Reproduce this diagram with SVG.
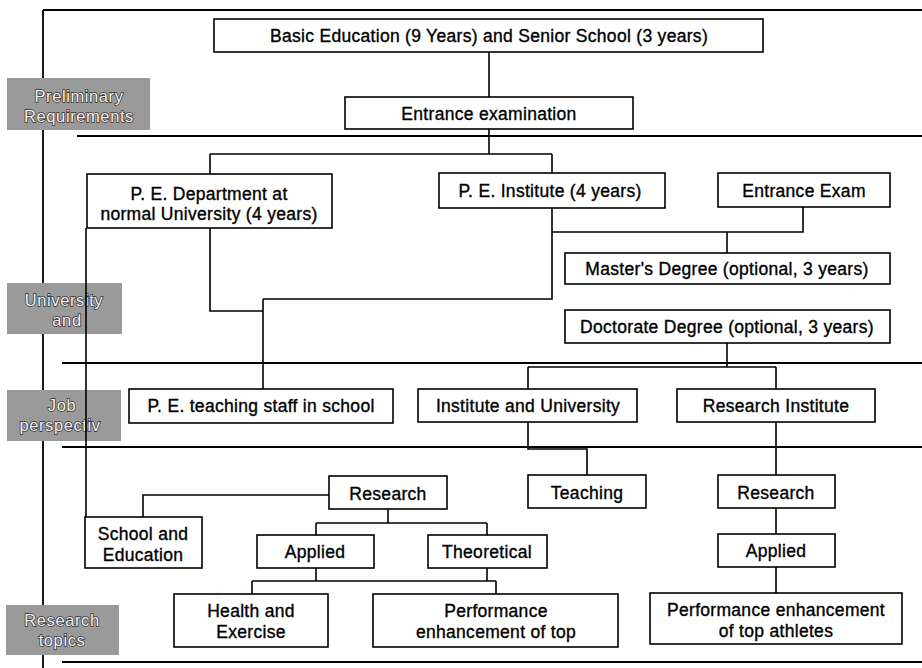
<svg xmlns="http://www.w3.org/2000/svg" width="922" height="668" viewBox="0 0 922 668">
<style>
.bg{fill:#ffffff}
.box{fill:#ffffff;stroke:#000;stroke-width:1.6}
.t{font-family:"Liberation Sans",Arial,sans-serif;font-size:17.5px;letter-spacing:0.3px;fill:#000;stroke:#000;stroke-width:0.35;text-anchor:middle}
.lab{fill:#9a9a9a}
.lt{font-family:"Liberation Sans",Arial,sans-serif;font-size:16.5px;letter-spacing:0.6px;fill:#f2f2f2;stroke:#333;stroke-width:1.5;paint-order:stroke;text-anchor:middle}
.ln{fill:none;stroke:#000;stroke-width:1.6}
.sep{fill:none;stroke:#000;stroke-width:1.8}
</style>
<rect class="bg" x="0" y="0" width="922" height="668"/>
<g id="frame">
<path class="sep" d="M43,10 H922 M43,10 V668 M77,136 H922 M62,363 H922 M62,447 H922 M62,662 H922"/>
</g>
<g id="labels">
<g id="label-preliminary"><rect class="lab" x="7" y="78" width="143" height="52"/><text class="lt" x="79" y="102">Preliminary</text><text class="lt" x="79" y="122">Requirements</text></g>
<g id="label-university"><rect class="lab" x="7" y="283" width="115" height="51"/><text class="lt" x="64" y="306">University</text><text class="lt" x="67" y="326">and</text></g>
<g id="label-job"><rect class="lab" x="7" y="390" width="114" height="51"/><text class="lt" x="62" y="411">Job</text><text class="lt" x="60" y="431">perspectiv</text></g>
<g id="label-topics"><rect class="lab" x="6" y="605" width="113" height="50"/><text class="lt" x="62" y="626">Research</text><text class="lt" x="62" y="646">topics</text></g>
</g>
<g id="connectors">
<path class="ln" d="M489,52 V97"/>
<path class="ln" d="M489,129 V154 M210,154 H552 M210,154 V174 M552,154 V173"/>
<path class="ln" d="M552,208 V299 H263 M552,232 H803 V207 M727,232 V253"/>
<path class="ln" d="M210,228 V311 H263 M263,299 V389"/>
<path class="ln" d="M727,343 V367 M528,367 H776 M528,367 V389 M776,367 V389"/>
<path class="ln" d="M528,422 V449 H587 V475"/>
<path class="ln" d="M776,422 V475 M776,508 V534 M776,567 V593"/>
<path class="ln" d="M329,495 H143 V517"/>
<path class="ln" d="M388,509 V523 M316,523 H487 M316,523 V535 M487,523 V535"/>
<path class="ln" d="M316,568 V581 M487,568 V581 M252,581 H496 M252,581 V594 M496,581 V594"/>
</g>
<g id="basic"><rect class="box" x="214" y="19" width="549" height="33"/><text class="t" x="489" y="42">Basic Education (9 Years) and Senior School (3 years)</text></g>
<g id="entrance"><rect class="box" x="345" y="97" width="288" height="32"/><text class="t" x="489" y="120">Entrance examination</text></g>
<g id="pe-dept"><rect class="box" x="87" y="174" width="245" height="54"/><text class="t" x="209" y="200">P. E. Department at</text><text class="t" x="209" y="220">normal University (4 years)</text></g>
<g id="pe-inst"><rect class="box" x="439" y="173" width="226" height="35"/><text class="t" x="550" y="197">P. E. Institute (4 years)</text></g>
<g id="entrance-exam"><rect class="box" x="718" y="173" width="172" height="34"/><text class="t" x="804" y="197">Entrance Exam</text></g>
<g id="master"><rect class="box" x="565" y="253" width="325" height="31"/><text class="t" x="727" y="275">Master's Degree (optional, 3 years)</text></g>
<g id="doctorate"><rect class="box" x="565" y="310" width="325" height="33"/><text class="t" x="727" y="333">Doctorate Degree (optional, 3 years)</text></g>
<g id="pe-staff"><rect class="box" x="129" y="389" width="264" height="34"/><text class="t" x="261" y="412">P. E. teaching staff in school</text></g>
<g id="inst-univ"><rect class="box" x="418" y="389" width="219" height="33"/><text class="t" x="528" y="412">Institute and University</text></g>
<g id="res-inst"><rect class="box" x="677" y="389" width="198" height="33"/><text class="t" x="776" y="412">Research Institute</text></g>
<g id="research-left"><rect class="box" x="329" y="476" width="118" height="33"/><text class="t" x="388" y="500">Research</text></g>
<g id="teaching"><rect class="box" x="528" y="475" width="118" height="33"/><text class="t" x="587" y="499">Teaching</text></g>
<g id="research-right"><rect class="box" x="718" y="475" width="117" height="33"/><text class="t" x="776" y="499">Research</text></g>
<g id="school"><rect class="box" x="85" y="517" width="117" height="51"/><text class="t" x="143" y="540">School and</text><text class="t" x="143" y="561">Education</text></g>
<g id="applied-left"><rect class="box" x="257" y="535" width="117" height="33"/><text class="t" x="315" y="558">Applied</text></g>
<g id="theoretical"><rect class="box" x="428" y="535" width="119" height="33"/><text class="t" x="487" y="558">Theoretical</text></g>
<g id="applied-right"><rect class="box" x="718" y="534" width="117" height="33"/><text class="t" x="776" y="557">Applied</text></g>
<g id="health"><rect class="box" x="174" y="594" width="154" height="53"/><text class="t" x="251" y="617">Health and</text><text class="t" x="251" y="638">Exercise</text></g>
<g id="perf-mid"><rect class="box" x="373" y="594" width="245" height="53"/><text class="t" x="496" y="617">Performance</text><text class="t" x="496" y="638">enhancement of top</text></g>
<g id="perf-top"><rect class="box" x="650" y="593" width="252" height="51"/><text class="t" x="776" y="616">Performance enhancement</text><text class="t" x="776" y="637">of top athletes</text></g>
<g id="overlay-connector">
<path class="ln" d="M86,228 V517"/>
</g>
</svg>
